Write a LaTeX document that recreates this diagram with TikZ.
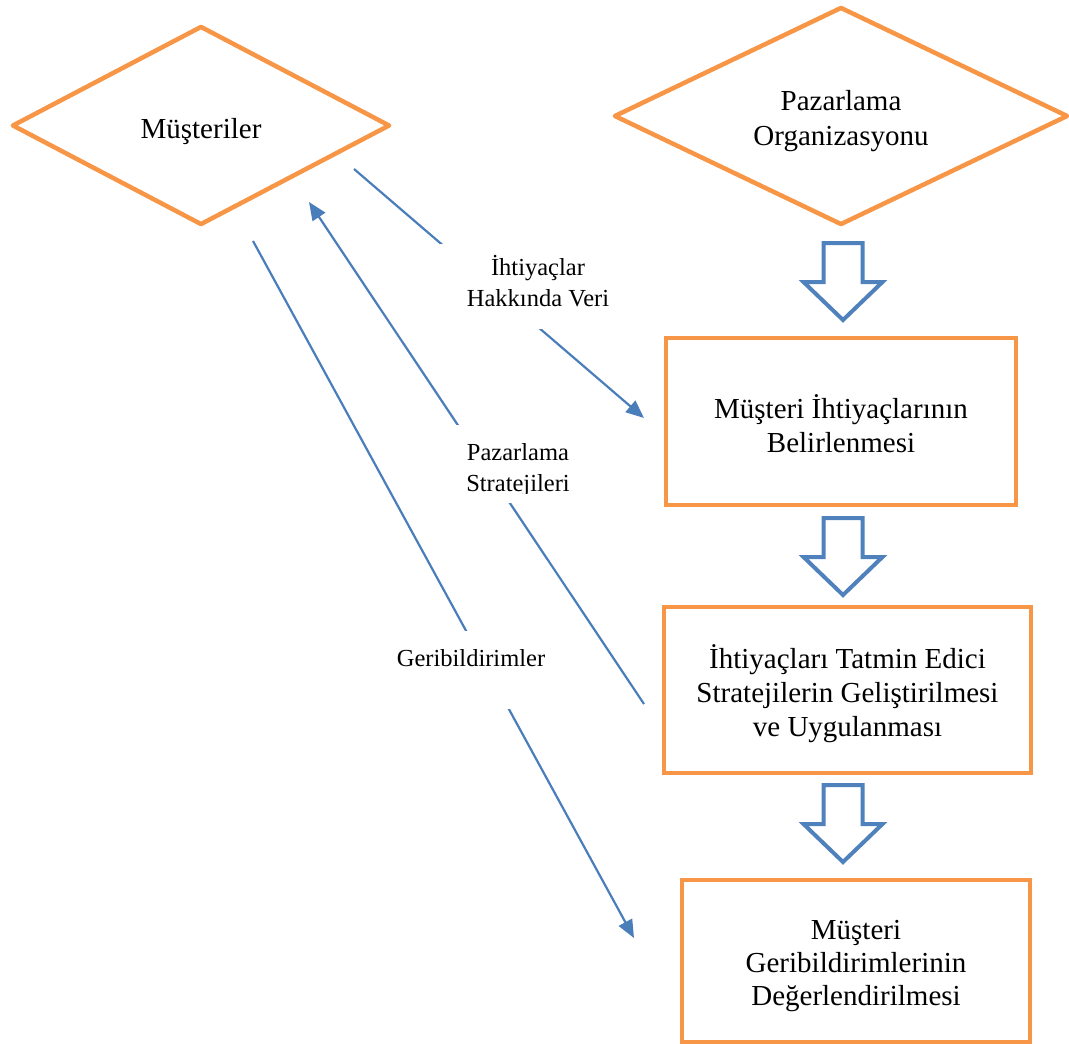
\documentclass[tikz,border=0pt]{standalone}
\usepackage{fontspec}
\setmainfont{Liberation Serif}
\usetikzlibrary{shapes.geometric,arrows.meta}
\definecolor{boxorange}{HTML}{F79646}
\definecolor{flowblue}{HTML}{4A7EBB}
\definecolor{stepblue}{HTML}{4F81BD}
\tikzset{
  decision/.style={diamond, draw=boxorange, line width=4.5pt, line join=round,
    inner sep=0pt, font=\fontsize{29}{35}\selectfont, align=center},
  process/.style={rectangle, draw=boxorange, line width=4.5pt, inner sep=0pt,
    font=\fontsize{29}{34}\selectfont, align=center},
  flow/.style={draw=flowblue, line width=2.2pt,
    -{Triangle[length=18pt,width=15pt]}},
  cover/.style={rectangle, fill=white, inner sep=0pt},
  flowlabel/.style={font=\fontsize{24.5}{31}\selectfont, align=center, inner sep=0pt},
  stepdown/.pic={
    \draw[stepblue, line width=4pt, line join=miter, fill=white]
      (-19.5,0) -- (19.5,0) -- (19.5,39) -- (39.5,39) -- (0,77)
      -- (-39.5,39) -- (-19.5,39) -- cycle;
  }
}
\begin{document}
\begin{tikzpicture}[x=1pt,y=-1pt]
  \useasboundingbox (0,0) rectangle (1069,1044);

  % the two parties
  \node[decision, minimum width=378pt, minimum height=199pt] (customers) at (201,125.5) {};
  \node[font=\fontsize{29}{35}\selectfont] (customersText) at (201,132) {Müşteriler};
  \node[decision, minimum width=454pt, minimum height=218pt] (org) at (841,116) {};
  \node[font=\fontsize{29}{35}\selectfont, align=center] (orgText) at (841,121) {Pazarlama\\Organizasyonu};

  % process steps
  \node[process, minimum width=350pt, minimum height=167pt] (needs) at (841,421.5) {};
  \node[font=\fontsize{29}{34}\selectfont, align=center] (needsText) at (841,424)
    {Müşteri İhtiyaçlarının\\Belirlenmesi};
  \node[process, minimum width=367pt, minimum height=166pt] (strategy) at (847.5,690) {};
  \node[font=\fontsize{29}{34}\selectfont, align=center] (strategyText) at (847.5,694)
    {İhtiyaçları Tatmin Edici\\Stratejilerin Geliştirilmesi\\ve Uygulanması};
  \node[process, minimum width=348pt, minimum height=162pt] (evaluate) at (856,961) {};
  \node[font=\fontsize{29}{33}\selectfont, align=center] (evaluateText) at (856,966)
    {Müşteri\\Geribildirimlerinin\\Değerlendirilmesi};

  % block arrows between the steps
  \pic at (843,243) {stepdown};
  \pic at (843,518) {stepdown};
  \pic at (843,785) {stepdown};

  % connector end points
  \coordinate (dataFrom) at (354,169);
  \coordinate (dataTo) at (644,418);
  \coordinate (stratFrom) at (644,704);
  \coordinate (stratTo) at (309,202);
  \coordinate (fbFrom) at (253,241);
  \coordinate (fbTo) at (634,938);

  % information flows
  \draw[flow] (dataFrom) -- (dataTo);
  \draw[flow] (stratFrom) -- (stratTo);
  \draw[flow] (fbFrom) -- (fbTo);

  % label boxes over the flows
  \node[cover, minimum width=200pt, minimum height=85pt] (dataBox) at (540,286.5) {};
  \node[flowlabel] (dataLabel) at (538,281) {İhtiyaçlar\\Hakkında Veri};

  \node[cover, minimum width=140pt, minimum height=78pt] (stratBox) at (518,464) {};
  \begin{scope}
    \clip (440,420) rectangle (600,493);
    \node[flowlabel] (stratLabel) at (518,470) {Pazarlama\\Stratejileri};
  \end{scope}

  \node[cover, minimum width=170pt, minimum height=78pt] (fbBox) at (471,670) {};
  \node[flowlabel] (fbLabel) at (471,658) {Geribildirimler};
\end{tikzpicture}
\end{document}
